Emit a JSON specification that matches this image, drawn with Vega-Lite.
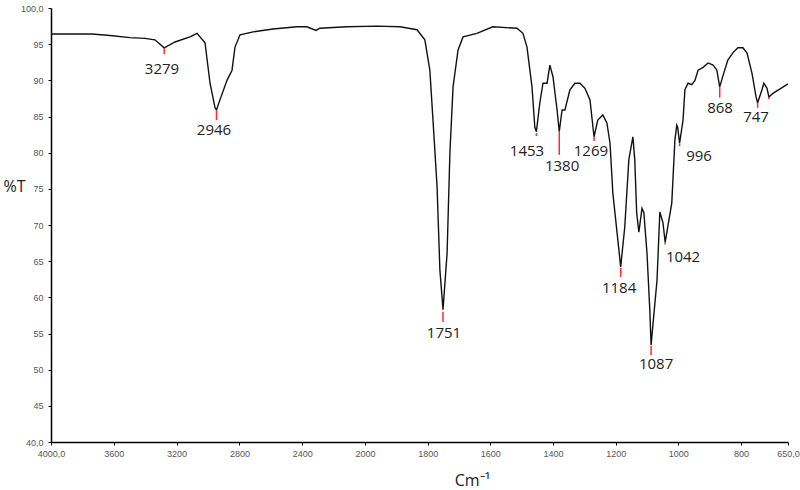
{
  "$schema": "https://vega.github.io/schema/vega-lite/v6.json",
  "width": 737,
  "height": 434,
  "autosize": {"type": "none"},
  "padding": {"left": 51, "top": 8, "right": 12, "bottom": 48},
  "background": "white",
  "config": {
    "view": {"stroke": null},
    "axis": {"grid": false, "domainColor": "#000", "domainWidth": 1.5, "tickColor": "#000", "tickSize": 3, "labelFont": "Liberation Sans", "labelFontSize": 9, "labelColor": "#555", "labelOverlap": false, "labelFlush": false, "titleFont": "Open Sans", "titleFontWeight": "normal", "titleFontSize": 16, "titleColor": "#222"},
    "axisX": {"labelPadding": 4},
    "axisY": {"labelPadding": 5}
  },
  "datasets": {
    "spectrum": [
      {"wn": 4000, "T": 96.4}, {"wn": 3739, "T": 96.4}, {"wn": 3624, "T": 96.2}, {"wn": 3497, "T": 95.9},
      {"wn": 3401, "T": 95.8}, {"wn": 3338, "T": 95.6}, {"wn": 3279, "T": 94.5}, {"wn": 3210, "T": 95.3},
      {"wn": 3115, "T": 96.0}, {"wn": 3070, "T": 96.5}, {"wn": 3019, "T": 95.2}, {"wn": 2987, "T": 89.6},
      {"wn": 2955, "T": 86.2}, {"wn": 2946, "T": 85.9}, {"wn": 2924, "T": 87.3}, {"wn": 2879, "T": 90.0},
      {"wn": 2847, "T": 91.4}, {"wn": 2828, "T": 94.6}, {"wn": 2796, "T": 96.3}, {"wn": 2713, "T": 96.7},
      {"wn": 2586, "T": 97.1}, {"wn": 2433, "T": 97.4}, {"wn": 2370, "T": 97.4}, {"wn": 2312, "T": 96.9},
      {"wn": 2287, "T": 97.2}, {"wn": 2115, "T": 97.4}, {"wn": 1962, "T": 97.5}, {"wn": 1888, "T": 97.4},
      {"wn": 1834, "T": 97.0}, {"wn": 1809, "T": 95.6}, {"wn": 1793, "T": 91.4}, {"wn": 1783, "T": 84.5},
      {"wn": 1770, "T": 75.3}, {"wn": 1761, "T": 63.8}, {"wn": 1751, "T": 58.3}, {"wn": 1738, "T": 66.1},
      {"wn": 1729, "T": 80.0}, {"wn": 1719, "T": 89.1}, {"wn": 1703, "T": 94.2}, {"wn": 1687, "T": 96.0},
      {"wn": 1643, "T": 96.5}, {"wn": 1592, "T": 97.4}, {"wn": 1515, "T": 97.2}, {"wn": 1496, "T": 96.5},
      {"wn": 1483, "T": 94.6}, {"wn": 1467, "T": 89.1}, {"wn": 1458, "T": 83.5}, {"wn": 1453, "T": 82.9},
      {"wn": 1442, "T": 86.9}, {"wn": 1432, "T": 89.6}, {"wn": 1419, "T": 89.6}, {"wn": 1410, "T": 92.1},
      {"wn": 1400, "T": 90.5}, {"wn": 1387, "T": 85.9}, {"wn": 1380, "T": 82.9}, {"wn": 1371, "T": 85.9},
      {"wn": 1362, "T": 85.9}, {"wn": 1346, "T": 88.7}, {"wn": 1330, "T": 89.6}, {"wn": 1314, "T": 89.6},
      {"wn": 1298, "T": 88.9}, {"wn": 1282, "T": 87.3}, {"wn": 1269, "T": 82.2}, {"wn": 1257, "T": 84.5},
      {"wn": 1241, "T": 85.2}, {"wn": 1228, "T": 84.1}, {"wn": 1218, "T": 81.3}, {"wn": 1209, "T": 74.4},
      {"wn": 1193, "T": 67.9}, {"wn": 1184, "T": 64.2}, {"wn": 1171, "T": 69.7}, {"wn": 1158, "T": 79.0},
      {"wn": 1145, "T": 82.2}, {"wn": 1139, "T": 79.0}, {"wn": 1133, "T": 71.7}, {"wn": 1126, "T": 69.0},
      {"wn": 1116, "T": 72.3}, {"wn": 1110, "T": 71.7}, {"wn": 1100, "T": 66.1}, {"wn": 1091, "T": 58.2},
      {"wn": 1087, "T": 53.4}, {"wn": 1068, "T": 62.4}, {"wn": 1059, "T": 71.8}, {"wn": 1049, "T": 70.3},
      {"wn": 1042, "T": 67.6}, {"wn": 1030, "T": 70.7}, {"wn": 1021, "T": 73.0}, {"wn": 1011, "T": 81.7},
      {"wn": 1005, "T": 83.8}, {"wn": 1002, "T": 83.5}, {"wn": 996, "T": 81.3}, {"wn": 985, "T": 84.5},
      {"wn": 979, "T": 88.7}, {"wn": 969, "T": 89.6}, {"wn": 957, "T": 89.4}, {"wn": 947, "T": 90.0},
      {"wn": 937, "T": 91.4}, {"wn": 921, "T": 91.8}, {"wn": 905, "T": 92.4}, {"wn": 889, "T": 92.1},
      {"wn": 877, "T": 91.4}, {"wn": 868, "T": 89.1}, {"wn": 855, "T": 91.0}, {"wn": 842, "T": 92.8},
      {"wn": 826, "T": 93.8}, {"wn": 810, "T": 94.5}, {"wn": 794, "T": 94.5}, {"wn": 781, "T": 93.8},
      {"wn": 765, "T": 91.0}, {"wn": 752, "T": 87.7}, {"wn": 747, "T": 86.9}, {"wn": 733, "T": 88.7},
      {"wn": 727, "T": 89.6}, {"wn": 717, "T": 88.9}, {"wn": 711, "T": 87.7}, {"wn": 698, "T": 88.2},
      {"wn": 650, "T": 89.5}
    ],
    "peaks": [
      {"peak": "3279", "wn": 3279, "T": 94.5, "tickEnd": 93.6, "labelWn": 3293, "labelT": 91.6},
      {"peak": "2946", "wn": 2946, "T": 85.9, "tickEnd": 84.5, "labelWn": 2962, "labelT": 83.1},
      {"peak": "1751", "wn": 1751, "T": 58.0, "tickEnd": 56.6, "labelWn": 1748, "labelT": 55.1},
      {"peak": "1453", "wn": 1453, "T": 82.7, "tickEnd": 82.3, "labelWn": 1483, "labelT": 80.2},
      {"peak": "1380", "wn": 1380, "T": 82.9, "tickEnd": 79.7, "labelWn": 1371, "labelT": 78.2},
      {"peak": "1269", "wn": 1269, "T": 82.2, "tickEnd": 81.6, "labelWn": 1279, "labelT": 80.2},
      {"peak": "1184", "wn": 1184, "T": 64.1, "tickEnd": 62.8, "labelWn": 1189, "labelT": 61.3},
      {"peak": "1087", "wn": 1087, "T": 53.3, "tickEnd": 52.0, "labelWn": 1071, "labelT": 50.8},
      {"peak": "1042", "wn": 1042, "T": 67.6, "tickEnd": 67.3, "labelWn": 985, "labelT": 65.6},
      {"peak": "996", "wn": 996, "T": 81.3, "tickEnd": 80.9, "labelWn": 934, "labelT": 79.5},
      {"peak": "868", "wn": 868, "T": 89.1, "tickEnd": 87.6, "labelWn": 867, "labelT": 86.2},
      {"peak": "747", "wn": 747, "T": 86.9, "tickEnd": 86.2, "labelWn": 752, "labelT": 84.9},
      {"peak": "", "wn": 711, "T": 87.7, "tickEnd": 87.4, "labelWn": 711, "labelT": 87.4}
    ]
  },
  "layer": [
    {
      "data": {"name": "spectrum"},
      "mark": {"type": "line", "color": "#111", "strokeWidth": 1.4},
      "encoding": {
        "x": {
          "field": "wn", "type": "quantitative",
          "scale": {"domain": [4000, 2000, 650], "range": [0, 314, 737], "nice": false, "zero": false},
          "axis": {
            "title": "Cm⁻¹",
            "values": [4000, 3600, 3200, 2800, 2400, 2000, 1800, 1600, 1400, 1200, 1000, 800, 650],
            "format": "d",
            "labelExpr": "datum.value == 4000 ? '4000,0' : datum.value == 650 ? '650,0' : datum.label",
            "titleX": 421, "titleY": 43, "titleBaseline": "alphabetic", "titleAnchor": null, "titleAlign": "center"
          }
        },
        "y": {
          "field": "T", "type": "quantitative",
          "scale": {"domain": [40, 100], "nice": false, "zero": false},
          "axis": {
            "title": "%T",
            "values": [40, 45, 50, 55, 60, 65, 70, 75, 80, 85, 90, 95, 100],
            "format": "d",
            "labelExpr": "datum.value == 100 ? '100,0' : datum.value == 40 ? '40,0' : datum.label",
            "titleAngle": 0, "titleX": -37, "titleY": 178, "titleAlign": "center", "titleBaseline": "middle", "titleAnchor": null
          }
        }
      }
    },
    {
      "data": {"name": "peaks"},
      "mark": {"type": "rule", "color": "#ff2a2a", "strokeWidth": 1.5},
      "encoding": {
        "x": {
          "field": "wn", "type": "quantitative",
          "axis": {
            "title": "Cm⁻¹",
            "values": [4000, 3600, 3200, 2800, 2400, 2000, 1800, 1600, 1400, 1200, 1000, 800, 650],
            "format": "d",
            "labelExpr": "datum.value == 4000 ? '4000,0' : datum.value == 650 ? '650,0' : datum.label",
            "titleX": 421, "titleY": 43, "titleBaseline": "alphabetic", "titleAnchor": null, "titleAlign": "center"
          }
        },
        "y": {
          "field": "T", "type": "quantitative",
          "axis": {
            "title": "%T",
            "values": [40, 45, 50, 55, 60, 65, 70, 75, 80, 85, 90, 95, 100],
            "format": "d",
            "labelExpr": "datum.value == 100 ? '100,0' : datum.value == 40 ? '40,0' : datum.label",
            "titleAngle": 0, "titleX": -37, "titleY": 178, "titleAlign": "center", "titleBaseline": "middle", "titleAnchor": null
          }
        },
        "y2": {"field": "tickEnd"}
      }
    },
    {
      "data": {"name": "peaks"},
      "mark": {"type": "text", "font": "Open Sans", "fontSize": 15, "color": "#222", "align": "center", "baseline": "middle"},
      "encoding": {
        "x": {
          "field": "labelWn", "type": "quantitative",
          "axis": {
            "title": "Cm⁻¹",
            "values": [4000, 3600, 3200, 2800, 2400, 2000, 1800, 1600, 1400, 1200, 1000, 800, 650],
            "format": "d",
            "labelExpr": "datum.value == 4000 ? '4000,0' : datum.value == 650 ? '650,0' : datum.label",
            "titleX": 421, "titleY": 43, "titleBaseline": "alphabetic", "titleAnchor": null, "titleAlign": "center"
          }
        },
        "y": {
          "field": "labelT", "type": "quantitative",
          "axis": {
            "title": "%T",
            "values": [40, 45, 50, 55, 60, 65, 70, 75, 80, 85, 90, 95, 100],
            "format": "d",
            "labelExpr": "datum.value == 100 ? '100,0' : datum.value == 40 ? '40,0' : datum.label",
            "titleAngle": 0, "titleX": -37, "titleY": 178, "titleAlign": "center", "titleBaseline": "middle", "titleAnchor": null
          }
        },
        "text": {"field": "peak"}
      }
    }
  ]
}
